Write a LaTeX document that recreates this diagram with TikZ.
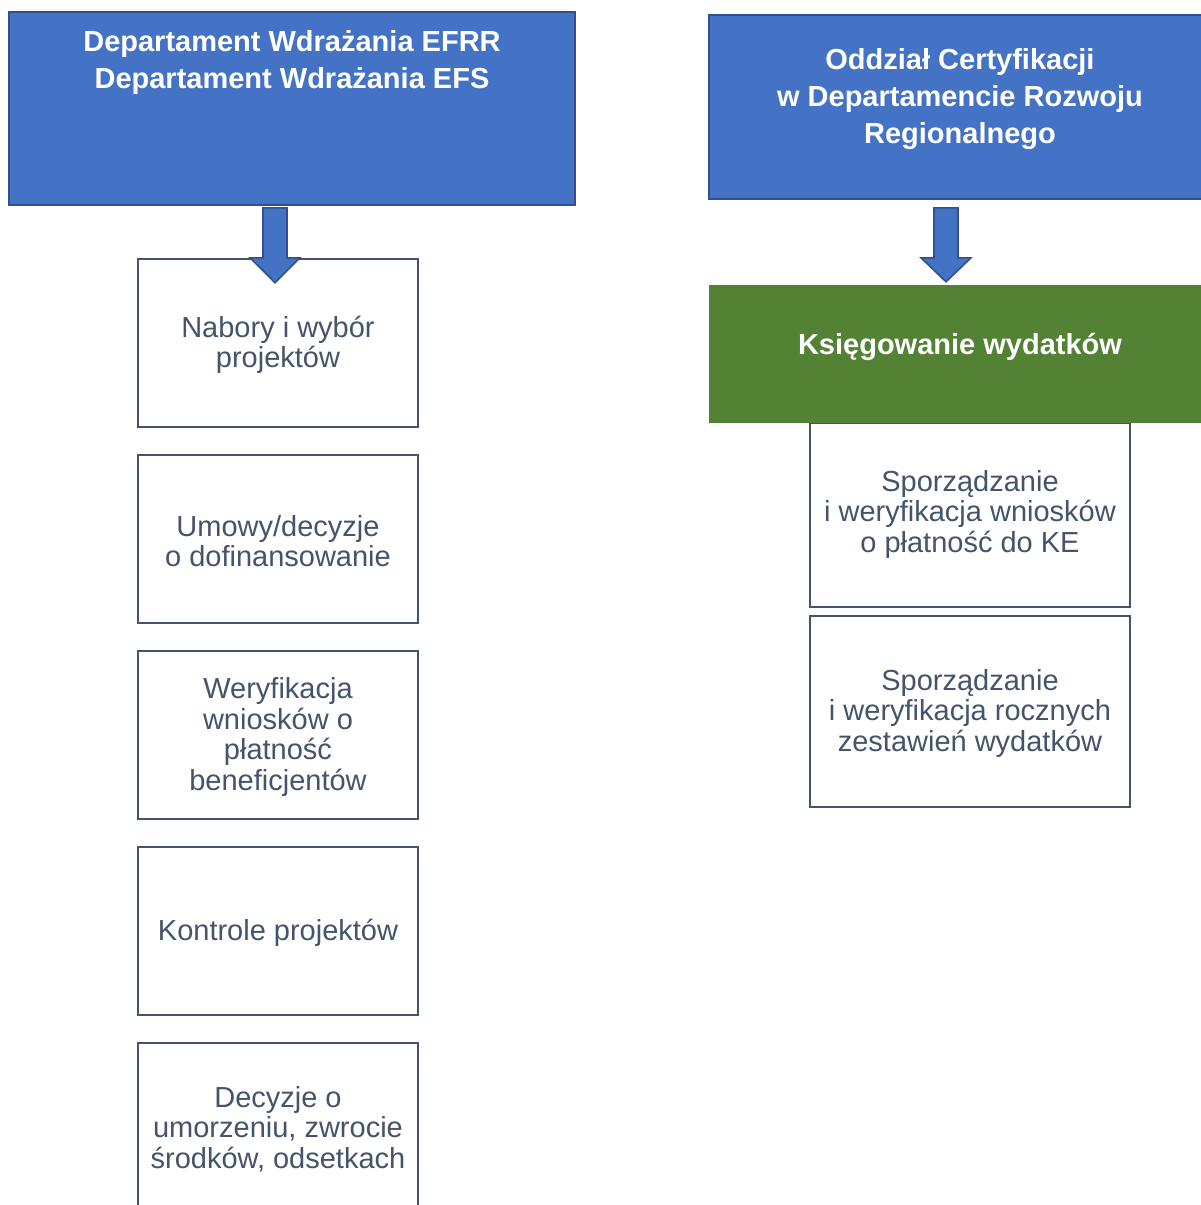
\documentclass[tikz,border=0pt]{standalone}
\usepackage{fontspec}
\setmainfont{Liberation Sans}
\usetikzlibrary{calc}
\definecolor{boxblue}{HTML}{4472C4}
\definecolor{boxblueline}{HTML}{2F528F}
\definecolor{boxgreen}{HTML}{548235}
\definecolor{slate}{HTML}{44546A}
\begin{document}
\begin{tikzpicture}[x=1pt,y=-1pt,
  head/.style={draw=boxblueline,fill=boxblue,line width=1.6pt,inner sep=0pt},
  titletext/.style={text=white,font=\fontsize{29}{37}\selectfont\bfseries,align=center,inner sep=0pt},
  stepbox/.style={draw=slate,line width=1.8pt,fill=white,inner sep=0pt},
  steptext/.style={text=slate,font=\fontsize{29}{30.5}\selectfont,align=center,inner sep=0pt},
  bigarrow/.style={draw=boxblueline,fill=boxblue,line width=1.6pt,line join=miter}]
\useasboundingbox (0,0) rectangle (1201,1205);
\clip (0,0) rectangle (1201,1205);
% left column
\node[head,minimum width=566pt,minimum height=193pt] (lh) at (292,108.5) {};
\node[titletext] (lht) at (292,62) {Departament Wdrażania EFRR\\Departament Wdrażania EFS};
\foreach \n/\y/\t in {b1/343/{Nabory i wybór\\projektów},b2/539/{Umowy/decyzje\\o dofinansowanie},b3/735/{Weryfikacja\\wniosków o\\płatność\\beneficjentów},b4/931/{Kontrole projektów},b5/1127/{Decyzje o\\umorzeniu, zwrocie\\środków, odsetkach}}{
  \node[stepbox,minimum width=280pt,minimum height=168pt] (\n) at (278,\y) {};
  \node[steptext] (\n t) at (278,\y+2) {\t};
}
% right column
\node[head,minimum width=502pt,minimum height=184pt] (rh) at (960,107) {};
\node[titletext] (rht) at (960,99.5) {Oddział Certyfikacji\\w Departamencie Rozwoju\\Regionalnego};
\node[stepbox,minimum width=320pt,minimum height=184pt] (r1) at (970,515) {};
\node[steptext] (r1t) at (970,514) {Sporządzanie\\i weryfikacja wniosków\\o płatność do KE};
\node[stepbox,minimum width=320pt,minimum height=191pt] (r2) at (970,711.5) {};
\node[steptext] (r2t) at (970,713) {Sporządzanie\\i weryfikacja rocznych\\zestawień wydatków};
\node[fill=boxgreen,minimum width=500pt,minimum height=138pt,inner sep=0pt] (gr) at (959,354) {};
\node[titletext] (grt) at (960,347) {Księgowanie wydatków};
% arrows
\draw[bigarrow] ($(lh.south)+(-29,2)$) -- ++(24,0) -- ++(0,50) -- ++(13,0) -- ++(-25,25) -- ++(-25,-25) -- ++(13,0) -- cycle;
\draw[bigarrow] ($(rh.south)+(-26,8)$) -- ++(24,0) -- ++(0,50) -- ++(13,0) -- ++(-25,24) -- ++(-25,-24) -- ++(13,0) -- cycle;
\end{tikzpicture}
\end{document}
